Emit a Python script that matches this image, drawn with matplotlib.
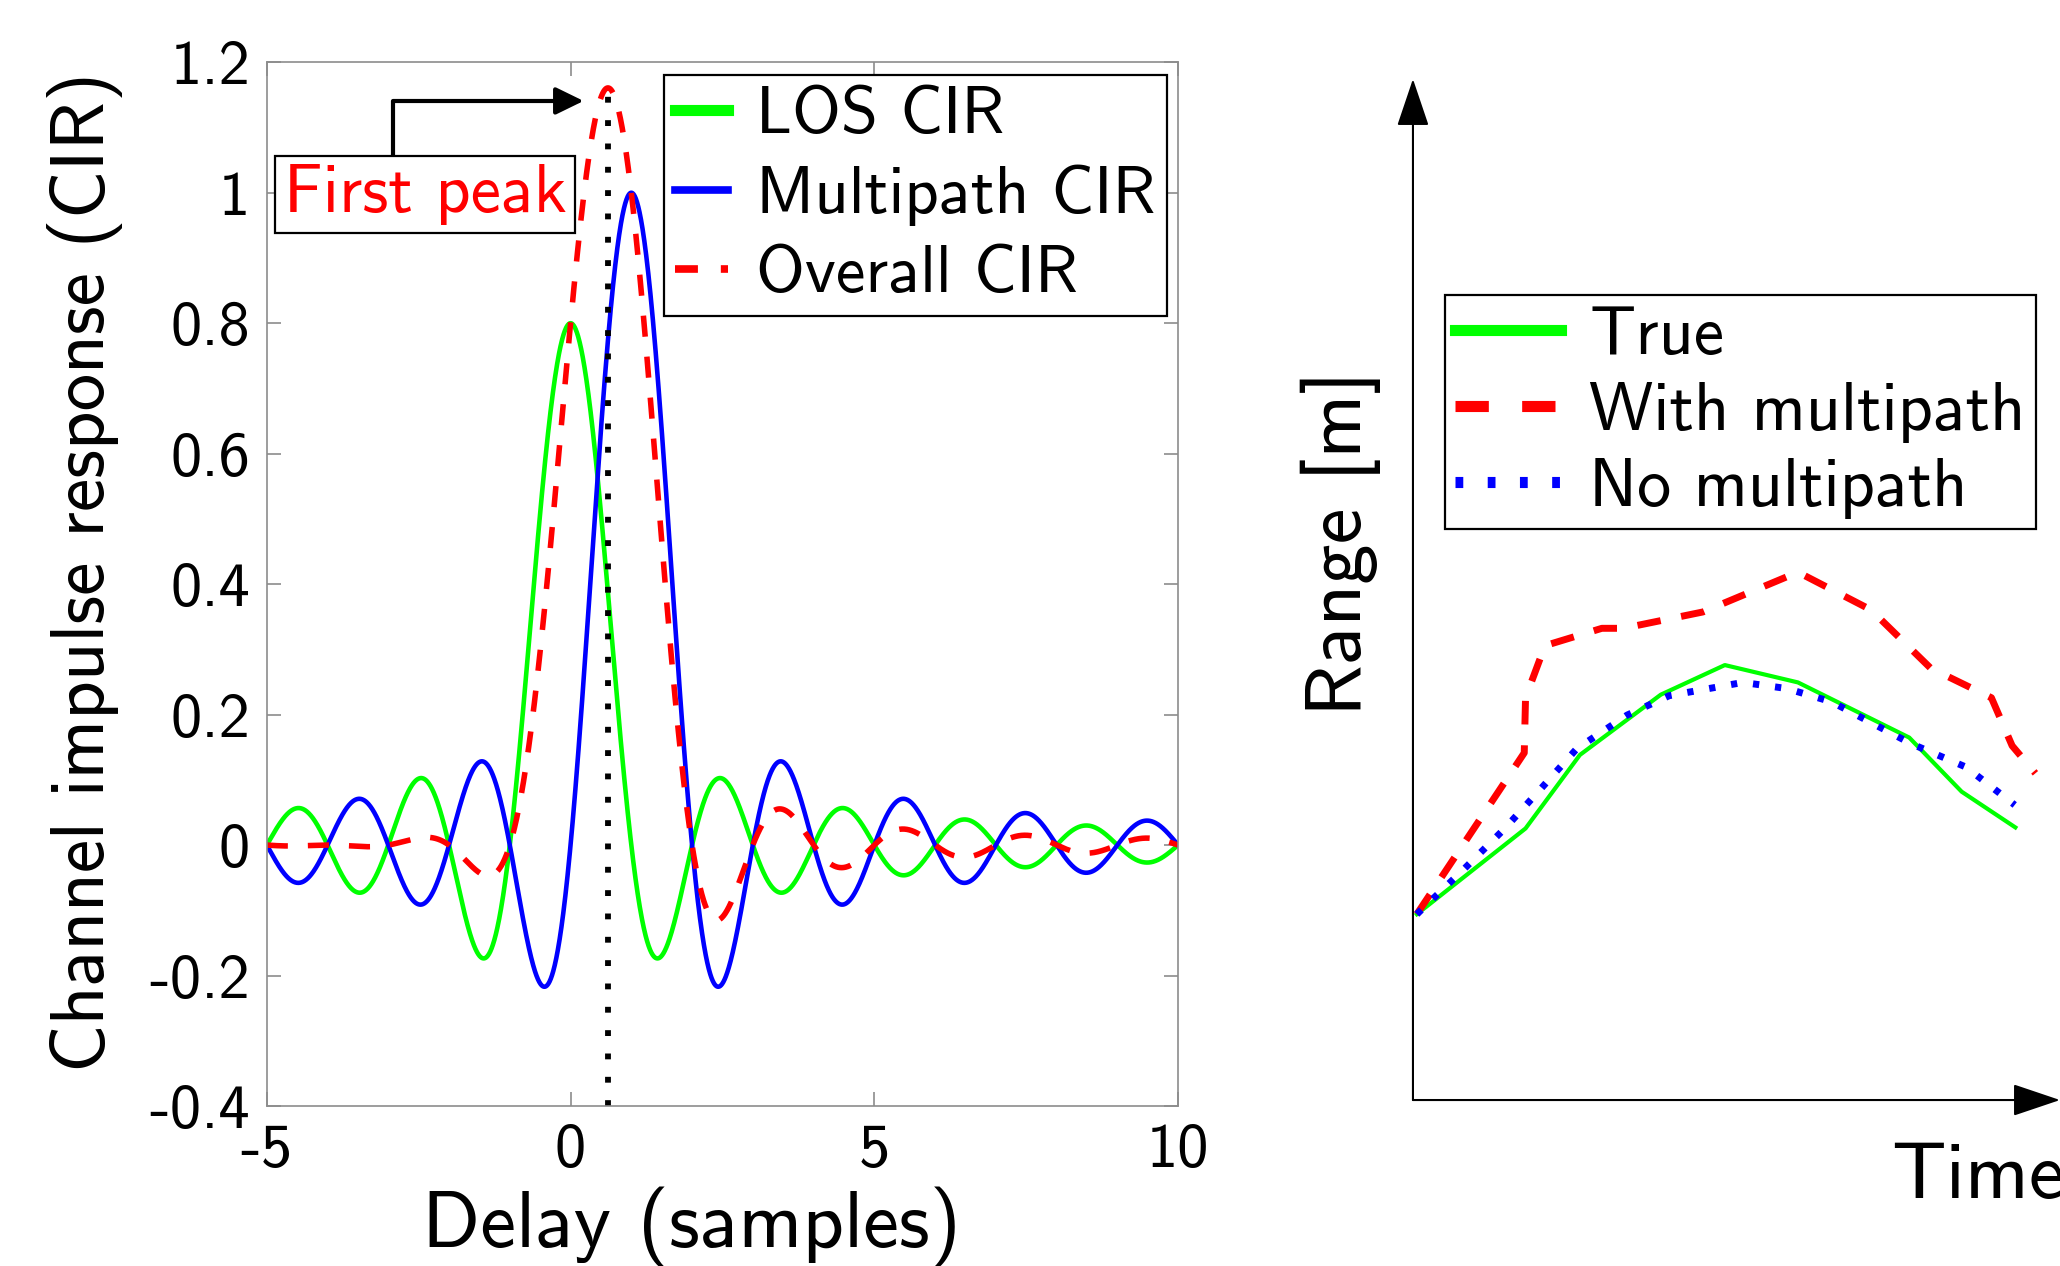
import numpy as np
import matplotlib
matplotlib.use("Agg")
import matplotlib.pyplot as plt
from matplotlib.lines import Line2D
from matplotlib.patches import ArrowStyle

# ---------------- data ----------------
# Left panel: band-limited CIR made of two paths (amplitude, delay in samples)
delay_range = [-5, 10]
los_amp, los_delay = 0.8, 0.0
mp_amp, mp_delay = 1.0, 1.0
cir_labels = ["LOS CIR", "Multipath CIR", "Overall CIR"]
yticks_left = [-0.4, -0.2, 0, 0.2, 0.4, 0.6, 0.8, 1, 1.2]
xticks_left = [-5, 0, 5, 10]

# Right panel: range vs time (arbitrary units, no ticks)
true_t = [0.06, 1.74, 2.58, 3.83, 4.82, 5.95, 7.67, 8.48, 9.31]
true_r = [1.82, 2.66, 3.38, 3.97, 4.26, 4.09, 3.55, 3.02, 2.67]
mp_t = [0.06, 1.72, 1.74, 2.04, 2.92, 3.25, 4.48, 5.95, 7.08, 8.00, 8.94, 9.26, 9.62]
mp_r = [1.82, 3.40, 3.94, 4.45, 4.62, 4.62, 4.78, 5.17, 4.80, 4.23, 3.94, 3.47, 3.20]
nomp_t = [0.06, 0.77, 1.42, 1.95, 2.53, 3.31, 3.96, 5.10, 5.78, 6.47, 7.70, 8.55, 9.30]
nomp_r = [1.82, 2.25, 2.66, 3.03, 3.44, 3.77, 3.96, 4.09, 4.03, 3.90, 3.49, 3.26, 2.89]
range_labels = ["True", "With multipath", "No multipath"]

# ---------------- style ----------------
plt.rcParams["font.family"] = ["cmss10", "DejaVu Sans"]
plt.rcParams["axes.unicode_minus"] = False
plt.rcParams["mathtext.fontset"] = "cm"

GREEN, BLUE, RED = (0, 1, 0), (0, 0, 1), (1, 0, 0)
GREY = "#8c8c8c"

fig = plt.figure(figsize=(20.6, 12.66), dpi=100)

# ---------------- left panel ----------------
axL = fig.add_axes([0.1295, 0.1264, 0.4424, 0.8244])
x = np.linspace(delay_range[0], delay_range[1], 3001)
los = los_amp * np.sinc(x - los_delay)
mp = mp_amp * np.sinc(x - mp_delay)
overall = los + mp

axL.plot(x, los, color=GREEN, lw=3.3)
axL.plot(x, mp, color=BLUE, lw=3.3)
axL.plot(x, overall, color=RED, lw=4.0, linestyle=(0, (3.8, 3.6)))

ipk = int(np.argmax(overall))
xpk, ypk = x[ipk], overall[ipk]
axL.plot([xpk, xpk], [-0.4, ypk], color="black", lw=4.2,
         linestyle=(0, (1, 3.0)), dash_capstyle="butt")

axL.set_xlim(delay_range)
axL.set_ylim(-0.4, 1.2)
axL.set_xticks(xticks_left)
axL.set_yticks(yticks_left)
axL.set_yticklabels(["%g" % v for v in yticks_left])
axL.tick_params(direction="in", length=10, width=1.2, color=GREY,
                top=True, right=True, labelsize=45, pad=12)
for s in axL.spines.values():
    s.set_color(GREY)
    s.set_linewidth(1.2)

axL.set_xlabel("Delay (samples)", fontsize=58)
axL.xaxis.label.set_va("baseline")
axL.xaxis.set_label_coords(0.466, -0.135)
axL.set_ylabel("Channel impulse response (CIR)", fontsize=54)
axL.yaxis.label.set_va("center")
axL.yaxis.set_label_coords(-0.2, 0.512)

hL = [Line2D([], [], color=GREEN, lw=8),
      Line2D([], [], color=BLUE, lw=5.5),
      Line2D([], [], color=RED, lw=5.5, linestyle=(0, (3, 3)))]
legL = axL.legend(hL, cir_labels, loc="upper right", bbox_to_anchor=(0.988, 0.988),
                  borderaxespad=0, fontsize=48, handlelength=0.8, handletextpad=0.42,
                  labelspacing=0.28, borderpad=0.17, fancybox=False, framealpha=1,
                  edgecolor="black")
legL.get_frame().set_linewidth(1.6)

axL.annotate("First peak", xy=(xpk - 0.4, ypk - 0.02), xytext=(-2.396, 0.997),
             textcoords="data", ha="center", va="center", color=RED, fontsize=49,
             bbox=dict(boxstyle="square,pad=0.12", fc="white", ec="black", lw=1.6),
             arrowprops=dict(arrowstyle=ArrowStyle("-|>", head_length=0.45, head_width=0.22),
                             mutation_scale=38, color="black", lw=3,
                             connectionstyle="angle,angleA=90,angleB=0,rad=0",
                             relpos=(0.386, 1.0), shrinkA=0, shrinkB=0))

# ---------------- right panel ----------------
axR = fig.add_axes([0.6859, 0.1311, 0.3141, 0.8065])
axR.set_xlim(0, 10)
axR.set_ylim(0, 10)
axR.plot(true_t, true_r, color=GREEN, lw=3.0)
axR.plot(mp_t, mp_r, color=RED, lw=5.0, linestyle=(0, (3.4, 3.0)))
axR.plot(nomp_t, nomp_r, color=BLUE, lw=5.0, linestyle=(0, (0.9, 2.3)),
         dash_capstyle="butt")
for s in axR.spines.values():
    s.set_visible(False)
axR.set_xticks([])
axR.set_yticks([])
axR.patch.set_alpha(0)

arr = ArrowStyle("-|>", head_length=0.4, head_width=0.135)
for end in [(1, 0), (0, 1)]:
    axR.annotate("", xy=end, xytext=(0, 0), xycoords="axes fraction",
                 textcoords="axes fraction", annotation_clip=False,
                 arrowprops=dict(arrowstyle=arr, mutation_scale=75, color="black",
                                 lw=1.5, shrinkA=0, shrinkB=0))

axR.set_ylabel("Range [m]", fontsize=58)
axR.yaxis.label.set_va("center")
axR.yaxis.set_label_coords(-0.111, 0.5455)
axR.set_xlabel("Time", fontsize=58)
axR.xaxis.label.set(ha="left", va="baseline")
axR.xaxis.set_label_coords(0.739, -0.096)

hR = [Line2D([], [], color=GREEN, lw=8),
      Line2D([], [], color=RED, lw=8, linestyle=(0, (3, 3))),
      Line2D([], [], color=BLUE, lw=8, linestyle=(0, (0.7, 2.2)), dash_capstyle="butt")]
legR = axR.legend(hR, range_labels, loc="upper left", bbox_to_anchor=(0.0495, 0.788),
                  borderaxespad=0, fontsize=49, handlelength=1.55, handletextpad=0.42,
                  labelspacing=0.22, borderpad=0.15, fancybox=False, framealpha=1,
                  edgecolor="black")
legR.get_frame().set_linewidth(1.6)

fig.savefig("out.png", dpi=100)
